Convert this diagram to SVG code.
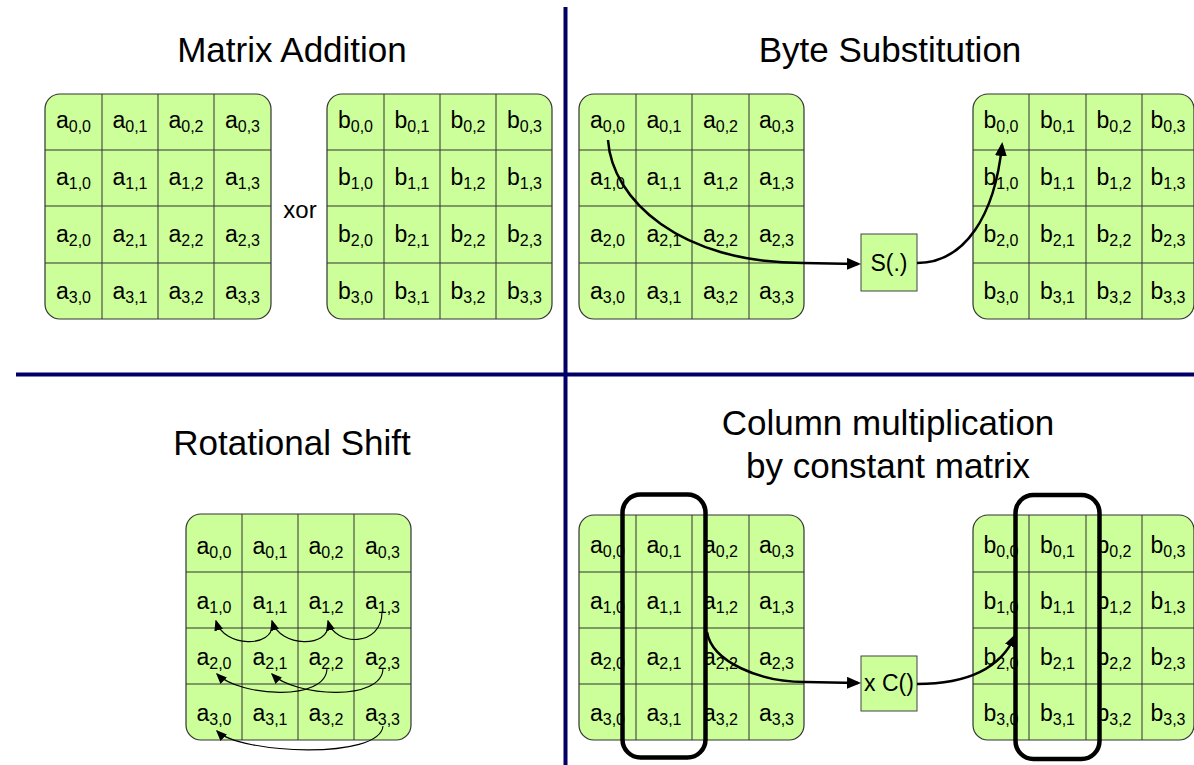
<svg xmlns="http://www.w3.org/2000/svg" width="1194" height="765" viewBox="0 0 1194 765">
<style>
.title{font-family:"Liberation Sans",Arial,sans-serif;font-size:35px;fill:#000;text-anchor:middle}
.c{font-family:"Liberation Sans",Arial,sans-serif;font-size:23px;fill:#000;text-anchor:middle}
.s{font-size:16px}
.mat{fill:#ccff99;stroke:#333;stroke-width:1.2}
.grid{fill:none;stroke:#333;stroke-width:1}
.box{fill:#ccff99;stroke:#444;stroke-width:1}
.sel{fill:none;stroke:#000;stroke-width:4.5}
.arr{fill:none;stroke:#000;stroke-width:2.5}
.thin{fill:none;stroke:#000;stroke-width:1.1}
.div{stroke:#000066;stroke-width:4}
</style>
<defs>
<marker id="ah" markerWidth="14" markerHeight="12" refX="11" refY="6" orient="auto" markerUnits="userSpaceOnUse"><path d="M0,0 L14,6 L0,12 z" fill="#000"/></marker>
<marker id="ahs" markerWidth="11" markerHeight="9" refX="9.5" refY="4.5" orient="auto" markerUnits="userSpaceOnUse"><path d="M0,0 L11,4.5 L0,9 z" fill="#000"/></marker>
</defs>
<rect width="1194" height="765" fill="#fff"/>

<!-- dividers -->
<g id="dividers">
<line class="div" x1="565.5" y1="7" x2="565.5" y2="765"/>
<line class="div" x1="16" y1="374.5" x2="1194" y2="374.5"/>
</g>

<!-- titles -->
<text class="title" x="292" y="62">Matrix Addition</text>
<text class="title" x="890" y="62">Byte Substitution</text>
<text class="title" x="292" y="455">Rotational Shift</text>
<text class="title" x="888" y="435">Column multiplication</text>
<text class="title" x="888" y="478">by constant matrix</text>

<!-- Matrix addition: A -->
<g id="add-a">
<rect class="mat" x="45" y="94" width="226" height="225" rx="15"/>
<path class="grid" d="M102,94V319M158,94V319M214,94V319M45,150H271M45,206H271M45,263H271"/>
<text class="c" x="73.5" y="128">a<tspan class="s" dy="4">0,0</tspan></text>
<text class="c" x="130" y="128">a<tspan class="s" dy="4">0,1</tspan></text>
<text class="c" x="186" y="128">a<tspan class="s" dy="4">0,2</tspan></text>
<text class="c" x="242.5" y="128">a<tspan class="s" dy="4">0,3</tspan></text>
<text class="c" x="73.5" y="185">a<tspan class="s" dy="4">1,0</tspan></text>
<text class="c" x="130" y="185">a<tspan class="s" dy="4">1,1</tspan></text>
<text class="c" x="186" y="185">a<tspan class="s" dy="4">1,2</tspan></text>
<text class="c" x="242.5" y="185">a<tspan class="s" dy="4">1,3</tspan></text>
<text class="c" x="73.5" y="242">a<tspan class="s" dy="4">2,0</tspan></text>
<text class="c" x="130" y="242">a<tspan class="s" dy="4">2,1</tspan></text>
<text class="c" x="186" y="242">a<tspan class="s" dy="4">2,2</tspan></text>
<text class="c" x="242.5" y="242">a<tspan class="s" dy="4">2,3</tspan></text>
<text class="c" x="73.5" y="299">a<tspan class="s" dy="4">3,0</tspan></text>
<text class="c" x="130" y="299">a<tspan class="s" dy="4">3,1</tspan></text>
<text class="c" x="186" y="299">a<tspan class="s" dy="4">3,2</tspan></text>
<text class="c" x="242.5" y="299">a<tspan class="s" dy="4">3,3</tspan></text>
</g>

<text class="c" x="300" y="218" style="font-size:24px">xor</text>

<!-- Matrix addition: B -->
<g id="add-b">
<rect class="mat" x="327" y="94" width="225" height="225" rx="15"/>
<path class="grid" d="M384,94V319M440,94V319M496,94V319M327,150H552M327,206H552M327,263H552"/>
<text class="c" x="355.5" y="128">b<tspan class="s" dy="4">0,0</tspan></text>
<text class="c" x="412" y="128">b<tspan class="s" dy="4">0,1</tspan></text>
<text class="c" x="468" y="128">b<tspan class="s" dy="4">0,2</tspan></text>
<text class="c" x="524.5" y="128">b<tspan class="s" dy="4">0,3</tspan></text>
<text class="c" x="355.5" y="185">b<tspan class="s" dy="4">1,0</tspan></text>
<text class="c" x="412" y="185">b<tspan class="s" dy="4">1,1</tspan></text>
<text class="c" x="468" y="185">b<tspan class="s" dy="4">1,2</tspan></text>
<text class="c" x="524.5" y="185">b<tspan class="s" dy="4">1,3</tspan></text>
<text class="c" x="355.5" y="242">b<tspan class="s" dy="4">2,0</tspan></text>
<text class="c" x="412" y="242">b<tspan class="s" dy="4">2,1</tspan></text>
<text class="c" x="468" y="242">b<tspan class="s" dy="4">2,2</tspan></text>
<text class="c" x="524.5" y="242">b<tspan class="s" dy="4">2,3</tspan></text>
<text class="c" x="355.5" y="299">b<tspan class="s" dy="4">3,0</tspan></text>
<text class="c" x="412" y="299">b<tspan class="s" dy="4">3,1</tspan></text>
<text class="c" x="468" y="299">b<tspan class="s" dy="4">3,2</tspan></text>
<text class="c" x="524.5" y="299">b<tspan class="s" dy="4">3,3</tspan></text>
</g>

<!-- Byte substitution: A -->
<g id="sub-a">
<rect class="mat" x="579" y="94" width="225" height="225" rx="15"/>
<path class="grid" d="M636,94V319M692,94V319M749,94V319M579,150H804M579,206H804M579,263H804"/>
<text class="c" x="607.5" y="128">a<tspan class="s" dy="4">0,0</tspan></text>
<text class="c" x="664" y="128">a<tspan class="s" dy="4">0,1</tspan></text>
<text class="c" x="720.5" y="128">a<tspan class="s" dy="4">0,2</tspan></text>
<text class="c" x="776.5" y="128">a<tspan class="s" dy="4">0,3</tspan></text>
<text class="c" x="607.5" y="185">a<tspan class="s" dy="4">1,0</tspan></text>
<text class="c" x="664" y="185">a<tspan class="s" dy="4">1,1</tspan></text>
<text class="c" x="720.5" y="185">a<tspan class="s" dy="4">1,2</tspan></text>
<text class="c" x="776.5" y="185">a<tspan class="s" dy="4">1,3</tspan></text>
<text class="c" x="607.5" y="242">a<tspan class="s" dy="4">2,0</tspan></text>
<text class="c" x="664" y="242">a<tspan class="s" dy="4">2,1</tspan></text>
<text class="c" x="720.5" y="242">a<tspan class="s" dy="4">2,2</tspan></text>
<text class="c" x="776.5" y="242">a<tspan class="s" dy="4">2,3</tspan></text>
<text class="c" x="607.5" y="299">a<tspan class="s" dy="4">3,0</tspan></text>
<text class="c" x="664" y="299">a<tspan class="s" dy="4">3,1</tspan></text>
<text class="c" x="720.5" y="299">a<tspan class="s" dy="4">3,2</tspan></text>
<text class="c" x="776.5" y="299">a<tspan class="s" dy="4">3,3</tspan></text>
</g>

<g id="sbox">
<rect class="box" x="861" y="234" width="56" height="57"/>
<text class="c" x="889" y="271">S(.)</text>
</g>

<!-- Byte substitution: B -->
<g id="sub-b">
<rect class="mat" x="973" y="94" width="221" height="225" rx="15"/>
<path class="grid" d="M1029,94V319M1086,94V319M1142,94V319M973,150H1194M973,206H1194M973,263H1194"/>
<text class="c" x="1001" y="128">b<tspan class="s" dy="4">0,0</tspan></text>
<text class="c" x="1057.5" y="128">b<tspan class="s" dy="4">0,1</tspan></text>
<text class="c" x="1114" y="128">b<tspan class="s" dy="4">0,2</tspan></text>
<text class="c" x="1168" y="128">b<tspan class="s" dy="4">0,3</tspan></text>
<text class="c" x="1001" y="185">b<tspan class="s" dy="4">1,0</tspan></text>
<text class="c" x="1057.5" y="185">b<tspan class="s" dy="4">1,1</tspan></text>
<text class="c" x="1114" y="185">b<tspan class="s" dy="4">1,2</tspan></text>
<text class="c" x="1168" y="185">b<tspan class="s" dy="4">1,3</tspan></text>
<text class="c" x="1001" y="242">b<tspan class="s" dy="4">2,0</tspan></text>
<text class="c" x="1057.5" y="242">b<tspan class="s" dy="4">2,1</tspan></text>
<text class="c" x="1114" y="242">b<tspan class="s" dy="4">2,2</tspan></text>
<text class="c" x="1168" y="242">b<tspan class="s" dy="4">2,3</tspan></text>
<text class="c" x="1001" y="299">b<tspan class="s" dy="4">3,0</tspan></text>
<text class="c" x="1057.5" y="299">b<tspan class="s" dy="4">3,1</tspan></text>
<text class="c" x="1114" y="299">b<tspan class="s" dy="4">3,2</tspan></text>
<text class="c" x="1168" y="299">b<tspan class="s" dy="4">3,3</tspan></text>
</g>

<!-- Rotational shift -->
<g id="rot-a">
<rect class="mat" x="186" y="514" width="225" height="226" rx="15"/>
<path class="grid" d="M242,514V740M298,514V740M354,514V740M186,572H411M186,628H411M186,684H411"/>
<text class="c" x="214" y="554">a<tspan class="s" dy="4">0,0</tspan></text>
<text class="c" x="270" y="554">a<tspan class="s" dy="4">0,1</tspan></text>
<text class="c" x="326" y="554">a<tspan class="s" dy="4">0,2</tspan></text>
<text class="c" x="382.5" y="554">a<tspan class="s" dy="4">0,3</tspan></text>
<text class="c" x="214" y="609">a<tspan class="s" dy="4">1,0</tspan></text>
<text class="c" x="270" y="609">a<tspan class="s" dy="4">1,1</tspan></text>
<text class="c" x="326" y="609">a<tspan class="s" dy="4">1,2</tspan></text>
<text class="c" x="382.5" y="609">a<tspan class="s" dy="4">1,3</tspan></text>
<text class="c" x="214" y="665">a<tspan class="s" dy="4">2,0</tspan></text>
<text class="c" x="270" y="665">a<tspan class="s" dy="4">2,1</tspan></text>
<text class="c" x="326" y="665">a<tspan class="s" dy="4">2,2</tspan></text>
<text class="c" x="382.5" y="665">a<tspan class="s" dy="4">2,3</tspan></text>
<text class="c" x="214" y="721">a<tspan class="s" dy="4">3,0</tspan></text>
<text class="c" x="270" y="721">a<tspan class="s" dy="4">3,1</tspan></text>
<text class="c" x="326" y="721">a<tspan class="s" dy="4">3,2</tspan></text>
<text class="c" x="382.5" y="721">a<tspan class="s" dy="4">3,3</tspan></text>
</g>

<!-- Column multiplication: A -->
<g id="mix-a">
<rect class="mat" x="579" y="515" width="225" height="225" rx="15"/>
<path class="grid" d="M636,515V740M692,515V740M749,515V740M579,572H804M579,628H804M579,684H804"/>
<text class="c" x="607.5" y="553">a<tspan class="s" dy="4">0,0</tspan></text>
<text class="c" x="664" y="553">a<tspan class="s" dy="4">0,1</tspan></text>
<text class="c" x="720.5" y="553">a<tspan class="s" dy="4">0,2</tspan></text>
<text class="c" x="776.5" y="553">a<tspan class="s" dy="4">0,3</tspan></text>
<text class="c" x="607.5" y="609">a<tspan class="s" dy="4">1,0</tspan></text>
<text class="c" x="664" y="609">a<tspan class="s" dy="4">1,1</tspan></text>
<text class="c" x="720.5" y="609">a<tspan class="s" dy="4">1,2</tspan></text>
<text class="c" x="776.5" y="609">a<tspan class="s" dy="4">1,3</tspan></text>
<text class="c" x="607.5" y="665">a<tspan class="s" dy="4">2,0</tspan></text>
<text class="c" x="664" y="665">a<tspan class="s" dy="4">2,1</tspan></text>
<text class="c" x="720.5" y="665">a<tspan class="s" dy="4">2,2</tspan></text>
<text class="c" x="776.5" y="665">a<tspan class="s" dy="4">2,3</tspan></text>
<text class="c" x="607.5" y="721">a<tspan class="s" dy="4">3,0</tspan></text>
<text class="c" x="664" y="721">a<tspan class="s" dy="4">3,1</tspan></text>
<text class="c" x="720.5" y="721">a<tspan class="s" dy="4">3,2</tspan></text>
<text class="c" x="776.5" y="721">a<tspan class="s" dy="4">3,3</tspan></text>
<rect class="sel" x="622.5" y="494.5" width="83" height="263" rx="18"/>
</g>

<g id="cbox">
<rect class="box" x="861" y="656" width="56" height="55"/>
<text class="c" x="889" y="691">x C()</text>
</g>

<!-- Column multiplication: B -->
<g id="mix-b">
<rect class="mat" x="973" y="515" width="221" height="225" rx="15"/>
<path class="grid" d="M1029,515V740M1086,515V740M1142,515V740M973,572H1194M973,628H1194M973,684H1194"/>
<text class="c" x="1001" y="553">b<tspan class="s" dy="4">0,0</tspan></text>
<text class="c" x="1057.5" y="553">b<tspan class="s" dy="4">0,1</tspan></text>
<text class="c" x="1114" y="553">b<tspan class="s" dy="4">0,2</tspan></text>
<text class="c" x="1168" y="553">b<tspan class="s" dy="4">0,3</tspan></text>
<text class="c" x="1001" y="609">b<tspan class="s" dy="4">1,0</tspan></text>
<text class="c" x="1057.5" y="609">b<tspan class="s" dy="4">1,1</tspan></text>
<text class="c" x="1114" y="609">b<tspan class="s" dy="4">1,2</tspan></text>
<text class="c" x="1168" y="609">b<tspan class="s" dy="4">1,3</tspan></text>
<text class="c" x="1001" y="665">b<tspan class="s" dy="4">2,0</tspan></text>
<text class="c" x="1057.5" y="665">b<tspan class="s" dy="4">2,1</tspan></text>
<text class="c" x="1114" y="665">b<tspan class="s" dy="4">2,2</tspan></text>
<text class="c" x="1168" y="665">b<tspan class="s" dy="4">2,3</tspan></text>
<text class="c" x="1001" y="721">b<tspan class="s" dy="4">3,0</tspan></text>
<text class="c" x="1057.5" y="721">b<tspan class="s" dy="4">3,1</tspan></text>
<text class="c" x="1114" y="721">b<tspan class="s" dy="4">3,2</tspan></text>
<text class="c" x="1168" y="721">b<tspan class="s" dy="4">3,3</tspan></text>
<rect class="sel" x="1015.5" y="495" width="84" height="264" rx="18"/>
</g>

<!-- connectors -->
<g id="connectors">
<path class="arr" d="M608,140 C612,200 680,263 803,263 L858,264" marker-end="url(#ah)"/>
<path class="arr" d="M917,263 C965,263 995,215 1002,145" marker-end="url(#ah)"/>
<path class="arr" d="M707,632 C712,662 760,682 805,682 L858,683" marker-end="url(#ah)"/>
<path class="arr" d="M917,684 C965,684 1000,670 1015,636" marker-end="url(#ah)"/>
<path class="thin" d="M382,612 C382,647 335,647 328,621" marker-end="url(#ahs)"/>
<path class="thin" d="M328,624 C330,648 280,648 272,621" marker-end="url(#ahs)"/>
<path class="thin" d="M272,624 C274,648 224,648 216,621" marker-end="url(#ahs)"/>
<path class="thin" d="M327,668 C327,702 240,697 217,674" marker-end="url(#ahs)"/>
<path class="thin" d="M383,668 C383,702 295,697 272,674" marker-end="url(#ahs)"/>
<path class="thin" d="M383,726 C380,760 240,754 217,731" marker-end="url(#ahs)"/>
</g>
</svg>
